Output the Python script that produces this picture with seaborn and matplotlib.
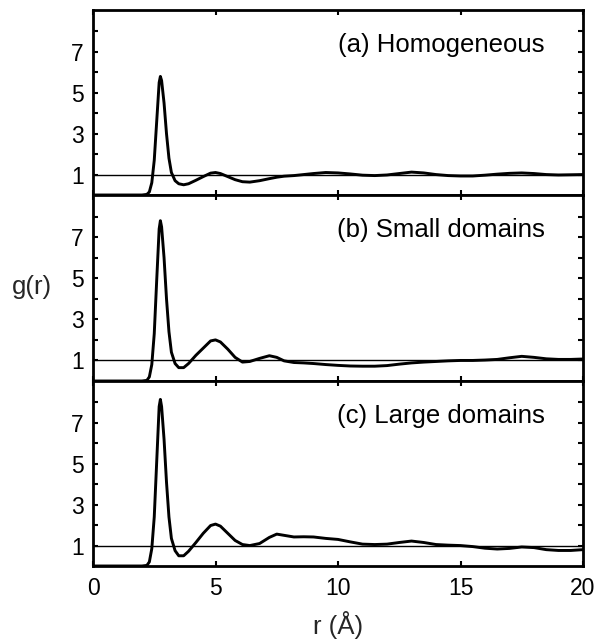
import matplotlib
matplotlib.use("Agg")
import matplotlib.pyplot as plt
import seaborn as sns
import pandas as pd
from matplotlib.ticker import FixedLocator

r = [0.0, 2.0, 2.2, 2.3, 2.4, 2.5, 2.6, 2.7, 2.75, 2.8, 2.9, 3.0, 3.1, 3.2, 3.35,
     3.5, 3.7, 3.9, 4.2, 4.5, 4.8, 5.0, 5.2, 5.5, 5.8, 6.1, 6.4, 6.8, 7.2, 7.5,
     7.8, 8.2, 8.6, 9.0, 9.5, 10.0, 10.5, 11.0, 11.5, 12.0, 12.5, 13.0, 13.5, 14.0,
     14.5, 15.0, 15.5, 16.0, 16.5, 17.0, 17.5, 18.0, 18.5, 19.0, 19.5, 20.0]

g_homogeneous = [0.0, 0.0, 0.03, 0.15, 0.6, 1.7, 3.6, 5.5, 5.8, 5.6, 4.5, 3.0, 1.8, 1.1, 0.7,
                 0.55, 0.5, 0.55, 0.72, 0.9, 1.07, 1.1, 1.05, 0.9, 0.75, 0.65, 0.63, 0.7, 0.8, 0.87,
                 0.92, 0.95, 1.0, 1.05, 1.1, 1.08, 1.03, 0.97, 0.95, 0.98, 1.05, 1.12, 1.08, 1.0,
                 0.95, 0.93, 0.93, 0.97, 1.02, 1.06, 1.08, 1.05, 1.0, 0.98, 0.99, 1.0]

g_small = [0.0, 0.0, 0.03, 0.2, 0.8, 2.3, 4.9, 7.4, 7.8, 7.5, 6.0, 4.0, 2.4, 1.4, 0.85,
           0.65, 0.65, 0.85, 1.25, 1.6, 1.95, 2.0, 1.9, 1.55, 1.15, 0.92, 0.95, 1.1, 1.23, 1.15,
           0.98, 0.9, 0.88, 0.85, 0.8, 0.76, 0.73, 0.72, 0.72, 0.75, 0.82, 0.88, 0.92, 0.95,
           0.98, 1.0, 1.0, 1.02, 1.05, 1.13, 1.2, 1.15, 1.08, 1.05, 1.05, 1.07]

g_large = [0.0, 0.0, 0.03, 0.2, 0.85, 2.4, 5.1, 7.8, 8.15, 7.8, 6.2, 4.1, 2.4, 1.35, 0.75,
           0.5, 0.5, 0.72, 1.15, 1.6, 1.98, 2.05, 1.95, 1.6, 1.25, 1.05, 1.0, 1.1, 1.4, 1.56,
           1.5, 1.42, 1.43, 1.42, 1.35, 1.3, 1.18, 1.07, 1.05, 1.07, 1.15, 1.22, 1.15, 1.05,
           1.02, 1.0, 0.95, 0.87, 0.83, 0.86, 0.93, 0.9, 0.8, 0.76, 0.76, 0.8]

panel_labels = ["(a) Homogeneous", "(b) Small domains", "(c) Large domains"]
series = [g_homogeneous, g_small, g_large]
x_ticks = [0, 5, 10, 15, 20]
y_major = [1, 3, 5, 7]
y_minor = [2, 4, 6, 8]

sns.set_style("ticks")
plt.rcParams["font.family"] = ["Liberation Sans", "DejaVu Sans"]

fig = plt.figure(figsize=(5.98, 6.39), dpi=100)
left = 93 / 598
width = (583 - 93) / 598
tops = [10, 195, 381]
bottoms = [195, 381, 566]

for i, (lab, g) in enumerate(zip(panel_labels, series)):
    b = 1 - bottoms[i] / 639
    h = (bottoms[i] - tops[i]) / 639
    ax = fig.add_axes([left, b, width, h])
    df = pd.DataFrame({"r": r, "g": g})
    sns.lineplot(data=df, x="r", y="g", ax=ax, color="black", lw=2.1)
    ax.axhline(1, color="black", lw=1.0, zorder=1)
    ax.set_xlim(0, 20)
    ax.set_ylim(0, 9.05)
    ax.xaxis.set_major_locator(FixedLocator(x_ticks))
    ax.yaxis.set_major_locator(FixedLocator(y_major))
    ax.yaxis.set_minor_locator(FixedLocator(y_minor))
    ax.tick_params(which="both", direction="in", top=True, right=True,
                   length=3.5, width=1.5, labelsize=16.5, colors="black")
    ax.tick_params(axis="y", pad=6.5)
    ax.tick_params(axis="x", pad=8)
    for s in ax.spines.values():
        s.set_linewidth(2.0)
        s.set_color("black")
    ax.set_xlabel("")
    ax.set_ylabel("")
    if i < 2:
        ax.tick_params(labelbottom=False)
    else:
        ax.set_xticklabels([str(t) for t in x_ticks])
    ax.text(0.922, 0.775, lab, transform=ax.transAxes, ha="right", va="baseline",
            fontsize=18.5, color="black")

fig.text(32 / 598, 1 - 287 / 639, "g(r)", ha="center", va="center", fontsize=18.5)
fig.text(338 / 598, 1 - 625 / 639, "r (Å)", ha="center", va="center", fontsize=18.5)

fig.savefig("out.png", dpi=100, facecolor="white")
